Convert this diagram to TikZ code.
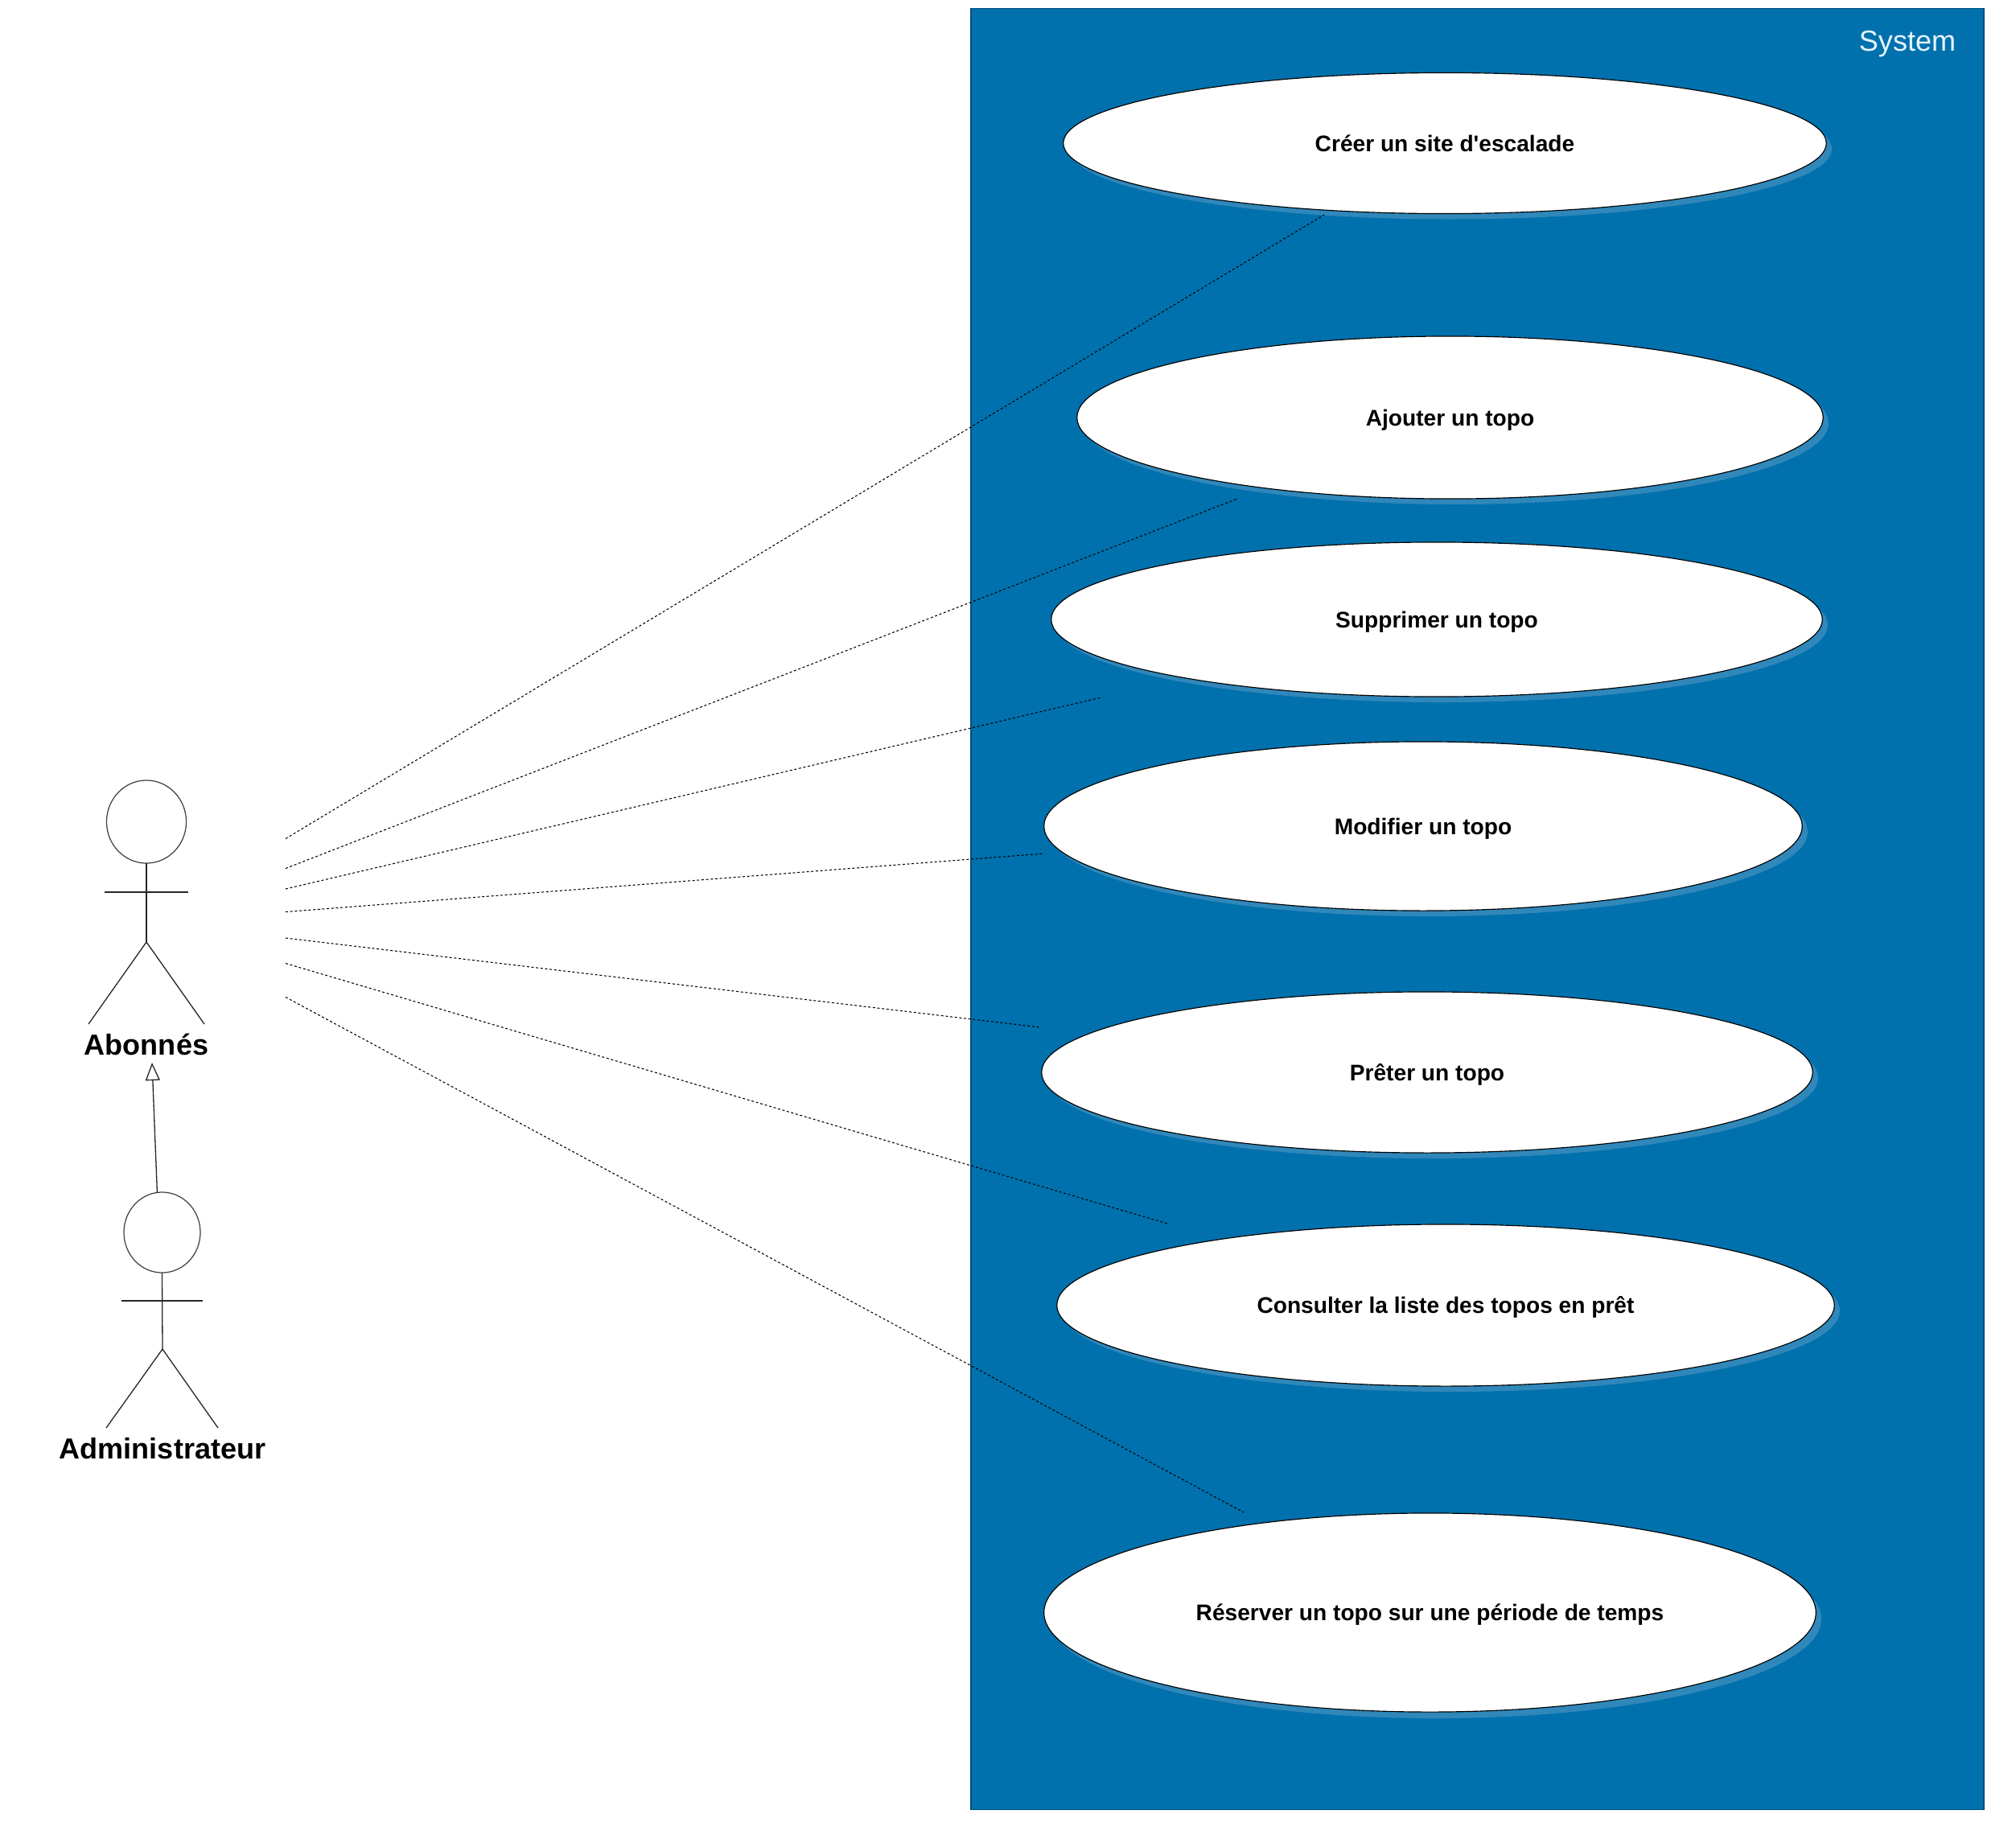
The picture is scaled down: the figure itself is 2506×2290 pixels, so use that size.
\documentclass[tikz,border=0pt]{standalone}
\usepackage{fontspec}
\setmainfont{Liberation Sans}[Ligatures=TeXOff]
\usetikzlibrary{shapes.geometric,arrows.meta}
\definecolor{sysblue}{HTML}{0071AD}
\definecolor{sysedge}{HTML}{004E7C}
\definecolor{sysshadow}{HTML}{3087BA}
\definecolor{systext}{HTML}{E6F4FF}
\tikzset{
  usecase/.style={ellipse,draw=black,fill=white,line width=0.33pt,inner sep=0pt,outer sep=0pt,text height=6pt,text depth=0.2pt,font=\fontsize{8}{10}\selectfont\bfseries},
  actorhead/.style={ellipse,draw=black!75,line width=0.35pt,inner sep=0pt,outer sep=0pt},
  actorline/.style={draw=black!85,line width=0.37pt},
  actorname/.style={font=\fontsize{10.25}{12}\selectfont\bfseries,inner sep=0pt},
  assoc/.style={draw=black,line width=0.3pt,dash pattern=on 0.85pt off 0.77pt},
}
\begin{document}
\begin{tikzpicture}[x=0.01cm,y=-0.01cm]
        \useasboundingbox (0,0) rectangle (2506,2290);
        %% system
        \node[rectangle,draw=sysedge,fill=sysblue,line width=0.4pt,inner sep=0pt,minimum width=12.58cm,minimum height=22.38cm] (system) at (1836.5,1130) {};
        \node[text=systext,font=\fontsize{10.25}{12}\selectfont,inner sep=0pt] (systemname) at (2371,55) {System};
        %% shadows
        \fill[sysshadow] (1803,185) ellipse (474 and 87.5);
        \fill[sysshadow] (1809.5,526) ellipse (463.5 and 101);
        \fill[sysshadow] (1793,777) ellipse (479 and 96);
        \fill[sysshadow] (1776,1034) ellipse (471 and 105);
        \fill[sysshadow] (1781,1340) ellipse (479 and 100);
        \fill[sysshadow] (1804,1629.5) ellipse (483 and 100.5);
        \fill[sysshadow] (1784.5,2012.5) ellipse (479.5 and 123.5);
        %% use cases
        \node[usecase,minimum width=9.48cm,minimum height=1.75cm] (creer) at (1796,178) {Créer un site d'escalade};
        \node[usecase,minimum width=9.27cm,minimum height=2.02cm] (ajouter) at (1802.5,519) {Ajouter un topo};
        \node[usecase,minimum width=9.58cm,minimum height=1.92cm] (supprimer) at (1786,770) {Supprimer un topo};
        \node[usecase,minimum width=9.42cm,minimum height=2.1cm] (modifier) at (1769,1027) {Modifier un topo};
        \node[usecase,minimum width=9.58cm,minimum height=2cm] (preter) at (1774,1333) {Prêter un topo};
        \node[usecase,minimum width=9.66cm,minimum height=2.01cm] (consulter) at (1797,1622.5) {Consulter la liste des topos en prêt};
        \node[usecase,minimum width=9.59cm,minimum height=2.47cm] (reserver) at (1777.5,2004.5) {Réserver un topo sur une période de temps};
        %% Abonnés
        \node[actorhead,minimum width=0.99cm,minimum height=1.03cm] (aboHead) at (182,1021.5) {};
        \coordinate (aboHip) at (182,1171);
        \draw[actorline] (aboHead.south) -- (aboHip);
        \draw[actorline] (130,1109) -- (234,1109);
        \draw[actorline] (110,1273) -- (aboHip) -- (254,1273);
        \node[actorname] (aboName) at (182,1298) {Abonnés};
        %% Administrateur
        \node[actorhead,minimum width=0.95cm,minimum height=1cm] (admHead) at (201.5,1532) {};
        \coordinate (admHip) at (202,1677);
        \draw[actorline] (admHead.south) -- (admHip);
        \draw[actorline] (151,1617) -- (252,1617);
        \draw[actorline] (132,1775) -- (admHip) -- (271,1775);
        \node[actorname] (admName) at (202,1801) {Administrateur};
        %% generalisation
        \coordinate (genEnd) at (189,1321);
        \draw[actorline,-{Triangle[open,length=0.22cm,width=0.18cm]}] (admHead.97) -- (genEnd);
        %% associations
        \coordinate (aboA) at (355,1042.5);
        \coordinate (aboB) at (355,1079.5);
        \coordinate (aboC) at (355,1105);
        \coordinate (aboD) at (355,1133.5);
        \coordinate (aboE) at (355,1166);
        \coordinate (aboF) at (355,1197.5);
        \coordinate (aboG) at (355,1239.5);
        \coordinate (creerEnd) at (1646,267);
        \coordinate (ajouterEnd) at (1538,620);
        \coordinate (supprimerEnd) at (1369,867);
        \coordinate (modifierEnd) at (1298,1061);
        \coordinate (preterEnd) at (1293,1277);
        \coordinate (consulterEnd) at (1451,1521);
        \coordinate (reserverEnd) at (1546,1880);
        \draw[assoc] (aboA) -- (creerEnd);
        \draw[assoc] (aboB) -- (ajouterEnd);
        \draw[assoc] (aboC) -- (supprimerEnd);
        \draw[assoc] (aboD) -- (modifierEnd);
        \draw[assoc] (aboE) -- (preterEnd);
        \draw[assoc] (aboF) -- (consulterEnd);
        \draw[assoc] (aboG) -- (reserverEnd);
    \end{tikzpicture}
\end{document}
